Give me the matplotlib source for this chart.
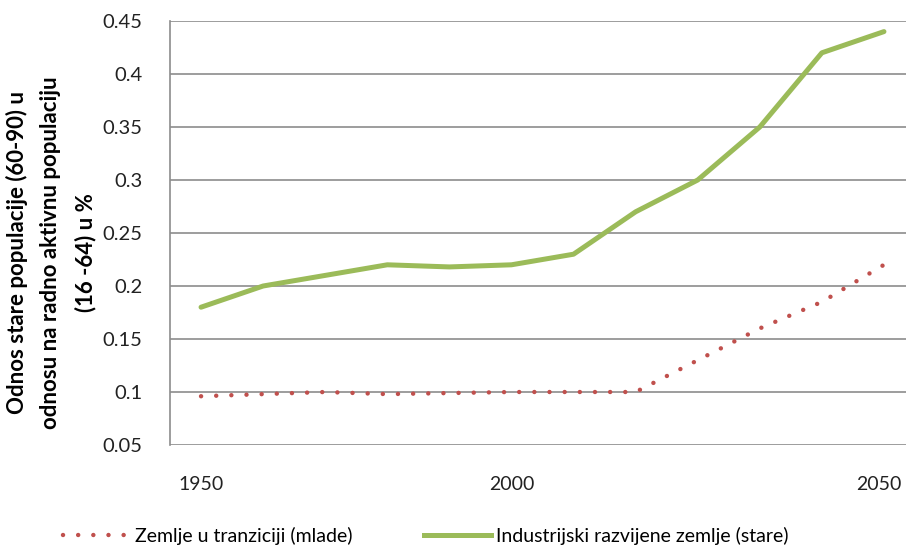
import matplotlib
matplotlib.use("Agg")
import matplotlib.pyplot as plt
from matplotlib.lines import Line2D
from matplotlib.transforms import ScaledTranslation

x_labels = ["1950", "", "", "", "", "2000", "", "", "", "", "", "2050"]
mlade = [0.096, 0.098, 0.100, 0.098, 0.099, 0.100, 0.100, 0.100, 0.130, 0.160, 0.185, 0.220]
stare = [0.180, 0.200, 0.210, 0.220, 0.218, 0.220, 0.230, 0.270, 0.300, 0.350, 0.420, 0.440]
y_ticks = [0.05, 0.1, 0.15, 0.2, 0.25, 0.3, 0.35, 0.4, 0.45]
y_tick_labels = ["0.05", "0.1", "0.15", "0.2", "0.25", "0.3", "0.35", "0.4", "0.45"]
name_mlade = "Zemlje u tranziciji (mlade)"
name_stare = "Industrijski razvijene zemlje (stare)"
y_title = "Odnos stare populacije (60-90) u\nodnosu na radno aktivnu populaciju\n(16 -64) u %"

plt.rcParams['font.family'] = ['Lato', 'DejaVu Sans']

fig = plt.figure(figsize=(9.06, 5.47), dpi=100)
ax = fig.add_axes([170/906, 102/547, 745/906, 424/547])

x = list(range(len(x_labels)))
red = "#C0504D"
green = "#9BBB59"
ax.plot(x, mlade, color=red, lw=3.2, linestyle=(0, (0.01, 3.4)),
        dash_capstyle='round', zorder=3)
ax.plot(x, stare, color=green, lw=3.6, solid_capstyle='round',
        solid_joinstyle='round', zorder=3)

ax.set_xlim(-0.5, 11.5)
ax.set_ylim(0.05, 0.45)
ax.set_yticks(y_ticks)
ax.set_yticklabels(y_tick_labels, fontsize=14.5, color="#222222")
ax.set_xticks(x)
ax.set_xticklabels(x_labels, fontsize=14, color="#222222")
ax.tick_params(axis='both', length=0)
ax.tick_params(axis='y', pad=20)
ax.tick_params(axis='x', pad=22)
for lbl in ax.get_xticklabels():
    if lbl.get_text() == "2050":
        lbl.set_transform(lbl.get_transform() + ScaledTranslation(-5/100, 0, fig.dpi_scale_trans))

ax.grid(axis='y', color="#8C8C8C", lw=1.2, zorder=1)
for s in ['top', 'right', 'bottom']:
    ax.spines[s].set_visible(False)
ax.spines['left'].set_color("#8C8C8C")
ax.spines['left'].set_linewidth(1.2)

fig.text(51/906, 1 - 253/547, y_title, rotation=90, ha='center', va='center',
         fontsize=16, fontweight='bold', linespacing=1.75, multialignment='center')

handles = [Line2D([0], [0], color=red, lw=3.2, linestyle=(0, (0.01, 3.4)), dash_capstyle='round'),
           Line2D([0], [0], color=green, lw=3.6)]
fig.legend(handles, [name_mlade, name_stare], loc='center', bbox_to_anchor=(426/906, 1 - 536/547),
           ncol=2, frameon=False, fontsize=14, handlelength=3.4, handletextpad=0.3,
           columnspacing=3.7)

fig.savefig("out.png", dpi=100)
